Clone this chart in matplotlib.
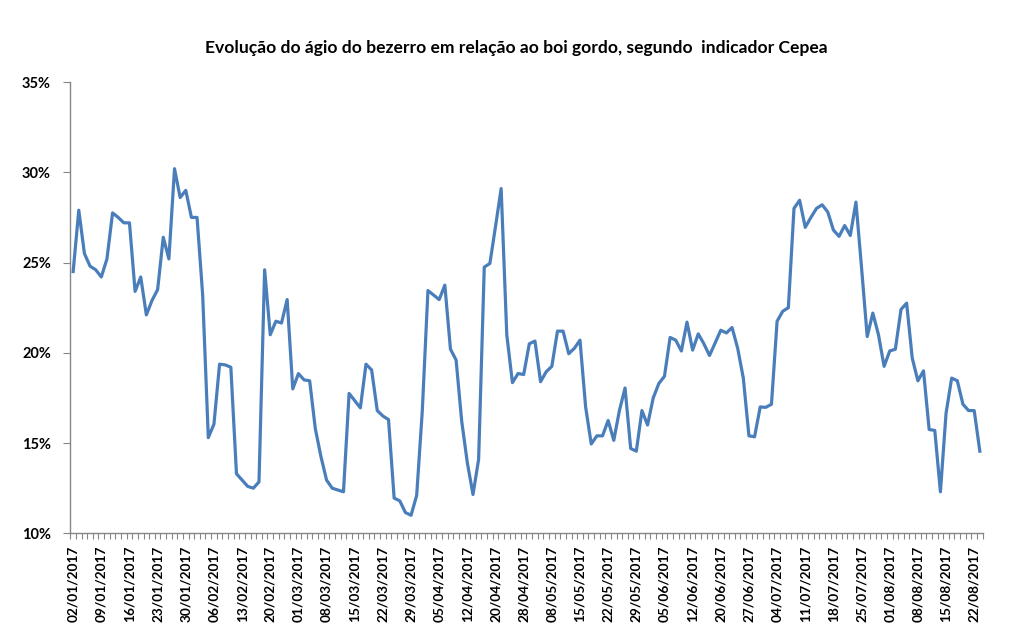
import numpy as np
import pandas as pd
import matplotlib
matplotlib.use("Agg")
import matplotlib.pyplot as plt
from matplotlib.ticker import FuncFormatter, FixedLocator

# Business days (Brazil market days, holidays removed)
holidays = ["2017-02-27", "2017-02-28", "2017-04-14", "2017-04-21", "2017-05-01", "2017-06-15"]
dates = [d for d in pd.bdate_range("2017-01-02", "2017-08-23") if d.strftime("%Y-%m-%d") not in holidays]
date_labels = [d.strftime("%d/%m/%Y") for d in dates]

# Ágio (%)
agio = [
    24.5, 27.9, 25.5, 24.8, 24.6, 24.2, 25.2, 27.75, 27.5, 27.2,
    27.2, 23.4, 24.2, 22.1, 22.9, 23.5, 26.4, 25.2, 30.2, 28.6,
    29.0, 27.5, 27.5, 23.2, 15.3, 16.05, 19.37, 19.33, 19.2, 13.3,
    12.95, 12.6, 12.5, 12.85, 24.6, 21.0, 21.75, 21.65, 22.95, 18.0,
    18.85, 18.5, 18.45, 15.8, 14.25, 12.95, 12.5, 12.4, 12.3, 17.75,
    17.35, 16.95, 19.37, 19.05, 16.8, 16.5, 16.3, 11.95, 11.8, 11.15,
    11.0, 12.1, 16.8, 23.45, 23.2, 22.95, 23.75, 20.2, 19.6, 16.2,
    13.9, 12.15, 14.1, 24.75, 24.95, 27.0, 29.1, 21.0, 18.35, 18.85,
    18.8, 20.5, 20.65, 18.4, 18.95, 19.25, 21.2, 21.2, 19.95, 20.25,
    20.7, 17.0, 14.95, 15.4, 15.4, 16.25, 15.15, 16.8, 18.05, 14.7,
    14.55, 16.8, 16.0, 17.5, 18.3, 18.7, 20.85, 20.7, 20.1, 21.7,
    20.15, 21.05, 20.5, 19.85, 20.55, 21.25, 21.1, 21.4, 20.25, 18.6,
    15.4, 15.35, 17.0, 16.98, 17.15, 21.75, 22.3, 22.5, 28.0, 28.45,
    26.95, 27.5, 28.0, 28.2, 27.8, 26.8, 26.45, 27.05, 26.5, 28.35,
    24.7, 20.9, 22.2, 21.0, 19.25, 20.1, 20.2, 22.4, 22.75, 19.7,
    18.45, 19.0, 15.75, 15.7, 12.3, 16.65, 18.6, 18.45, 17.15, 16.8,
    16.8, 14.55,
]

title = "Evolução do ágio do bezerro em relação ao boi gordo, segundo  indicador Cepea"
y_ticks = [0.10, 0.15, 0.20, 0.25, 0.30, 0.35]

n = min(len(agio), len(dates))
vals = np.array(agio[:n]) / 100.0
labels = date_labels[:n]

fig = plt.figure(figsize=(10.12, 6.31), dpi=100)
ax = fig.add_axes([0.0695, 0.1548, 0.9015, 0.7152])

x = np.arange(n)
ax.plot(x, vals, color="#4A7EBB", lw=2.3, solid_joinstyle="round")

ax.set_xlim(-0.5, n - 0.5)
ax.set_ylim(0.10, 0.35)
ax.set_yticks(y_ticks)
ax.yaxis.set_major_formatter(FuncFormatter(lambda v, p: f"{v*100:.0f}%"))

major = list(range(0, n, 5))
ax.set_xticks(major)
ax.set_xticklabels([labels[i] for i in major], rotation=90)
ax.xaxis.set_minor_locator(FixedLocator(np.arange(-0.5, n, 1.0)))

for s in ["top", "right"]:
    ax.spines[s].set_visible(False)
for s in ["left", "bottom"]:
    ax.spines[s].set_color("#868686")
    ax.spines[s].set_linewidth(1.0)

ax.tick_params(axis="x", which="major", length=0, pad=9, labelsize=9.8)
ax.tick_params(axis="x", which="minor", length=4, color="#868686", width=0.8)
ax.tick_params(axis="y", which="major", length=5, color="#868686", width=0.8, labelsize=10.5, pad=9)
for lab in ax.get_xticklabels() + ax.get_yticklabels():
    lab.set_fontweight("bold")
    lab.set_fontfamily("Lato")

fig.text(0.51, 0.924, title, ha="center", va="center", fontsize=12.6, fontweight="bold", family="Lato")

fig.savefig("out.png", dpi=100, facecolor="white")
